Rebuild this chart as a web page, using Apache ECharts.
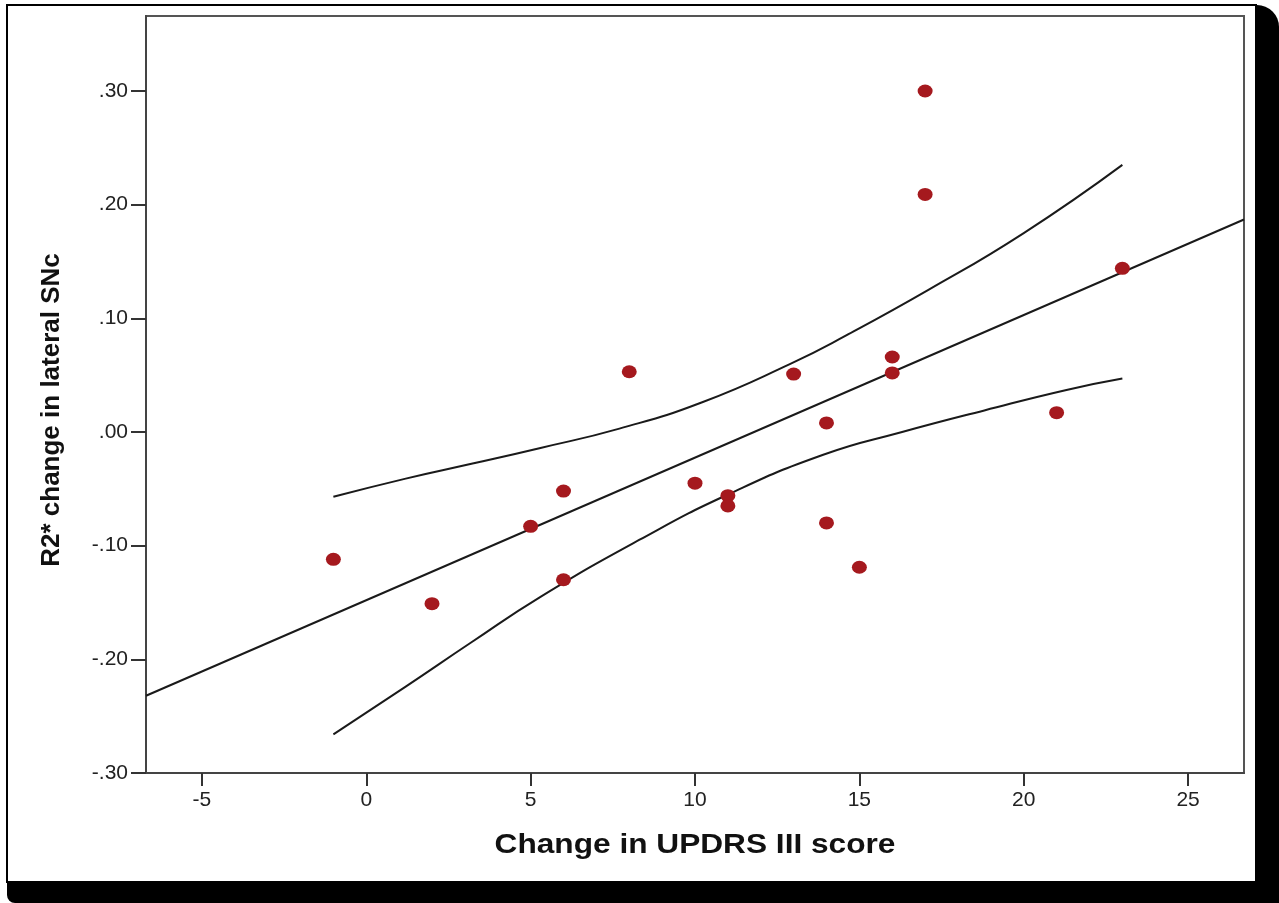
<!DOCTYPE html>
<html>

<head>
    <meta charset="utf-8">
    <title>R2* vs UPDRS</title>
    <script src="https://cdn.jsdelivr.net/npm/echarts@6/dist/echarts.min.js"></script>
    <style>
        body { margin: 0; background: #fff; }
    </style>
</head>

<body>
    <div id="main" style="width: 1279px;height:903px;"></div>
    <script type="text/javascript">
        // observed points
        const updrsChange = [-1, 2, 5, 6, 6, 8, 10, 11, 11, 13, 14, 14, 15, 16, 16, 17, 17, 21, 23]
        const r2Change = [-0.112, -0.151, -0.083, -0.052, -0.130, 0.053, -0.045, -0.056, -0.065, 0.051,
            0.008, -0.080, -0.119, 0.066, 0.052, 0.300, 0.209, 0.017, 0.144]

        // fit line (ends at axis edges)
        const fitX = [-6.7, 26.7]
        const fitY = [-0.232, 0.187]

        // confidence band
        const upperX = [-1, 1.2, 3.2, 5.3, 7.7, 10.2, 12.9, 14.6, 17.1, 20.0, 23]
        const upperY = [-0.057, -0.041, -0.028, -0.014, 0.003, 0.026, 0.060, 0.085, 0.125, 0.175, 0.235]
        const lowerX = [-1, 1.2, 3.2, 5.3, 8.3, 11.0, 13.9, 16.3, 18.8, 21.3, 23]
        const lowerY = [-0.266, -0.224, -0.185, -0.145, -0.095, -0.055, -0.020, 0.000, 0.019, 0.037, 0.047]

        const xTicks = [-5, 0, 5, 10, 15, 20, 25]
        const yTicks = [-0.3, -0.2, -0.1, 0, 0.1, 0.2, 0.3]

        const zip = (xs, ys) => xs.map((x, i) => [x, ys[i]])
        const fmtY = (v) => {
            let s = Math.abs(v).toFixed(2).replace(/^0/, '')
            return (v < -1e-9 ? '-' : '') + s
        }

        var myChart = echarts.init(document.getElementById('main'));
        const lineStyle = { color: '#1a1a1a', width: 2 }
        var option = {
            animation: false,
            textStyle: { fontFamily: 'Liberation Sans, Arial, sans-serif' },
            graphic: [
                // frame + drop shadow
                {
                    type: 'rect', z: -10,
                    shape: { x: 7, y: 5, width: 1272, height: 898, r: [0, 22, 0, 8] },
                    style: { fill: '#000' }
                },
                {
                    type: 'rect', z: -9,
                    shape: { x: 7, y: 5, width: 1249, height: 877 },
                    style: { fill: '#fff', stroke: '#000', lineWidth: 2 }
                },
                {
                    type: 'text', x: 52, y: 410, rotation: Math.PI / 2,
                    style: {
                        text: 'R2* change in lateral SNc', fill: '#111',
                        font: 'bold 26px "Liberation Sans", Arial, sans-serif',
                        align: 'center', verticalAlign: 'middle'
                    }
                },
                {
                    type: 'text', x: 695, y: 845, scaleX: 1.13,
                    style: {
                        text: 'Change in UPDRS III score', fill: '#111',
                        font: 'bold 28px "Liberation Sans", Arial, sans-serif',
                        align: 'center', verticalAlign: 'middle'
                    }
                }
            ],
            grid: {
                left: 146, top: 16, right: 35, bottom: 130,
                show: true, borderColor: '#555', borderWidth: 2
            },
            xAxis: {
                type: 'value', min: -6.7, max: 26.7,
                splitLine: { show: false },
                axisLine: { onZero: false, lineStyle: { color: '#444', width: 2 } },
                axisTick: { customValues: xTicks, length: 13, lineStyle: { color: '#333', width: 2 } },
                axisLabel: { customValues: xTicks, margin: 17, fontSize: 21, color: '#222' }
            },
            yAxis: {
                type: 'value', min: -0.3, max: 0.366,
                splitLine: { show: false },
                axisLine: { onZero: false, lineStyle: { color: '#444', width: 2 } },
                axisTick: { customValues: yTicks, length: 15, lineStyle: { color: '#333', width: 2 } },
                axisLabel: { customValues: yTicks, margin: 18, fontSize: 21, color: '#222', formatter: fmtY }
            },
            series: [
                {
                    type: 'line', data: zip(fitX, fitY), symbol: 'none',
                    lineStyle: lineStyle, z: 3
                },
                {
                    type: 'line', data: zip(upperX, upperY), symbol: 'none', smooth: 0.5,
                    lineStyle: lineStyle, z: 3
                },
                {
                    type: 'line', data: zip(lowerX, lowerY), symbol: 'none', smooth: 0.5,
                    lineStyle: lineStyle, z: 3
                },
                {
                    type: 'scatter', data: zip(updrsChange, r2Change),
                    symbol: 'circle', symbolSize: [15, 13],
                    itemStyle: { color: '#a5191e', opacity: 1 }, z: 4
                }
            ]
        };

        myChart.setOption(option);
    </script>
</body>

</html>
